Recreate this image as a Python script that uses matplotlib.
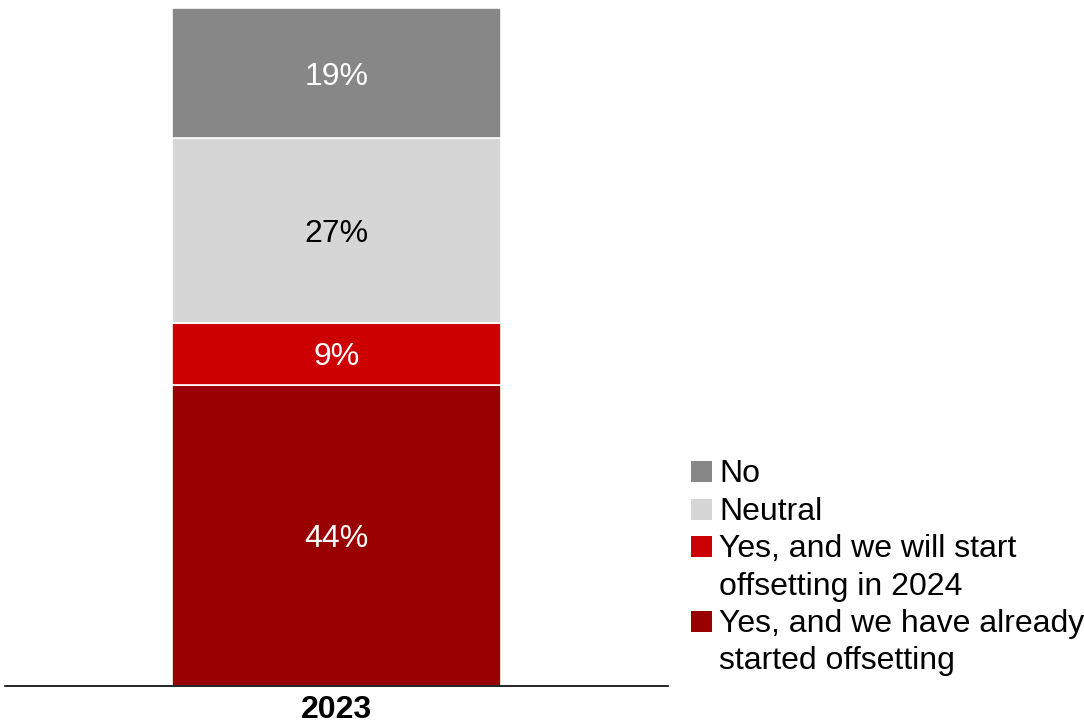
import matplotlib
matplotlib.use("Agg")
import matplotlib.pyplot as plt
from matplotlib.patches import Rectangle

plt.rcParams["font.family"] = ["Liberation Sans", "DejaVu Sans"]

# Survey results, stacked bottom to top
years = ["2023"]
series_names = [
    "Yes, and we have already\nstarted offsetting",
    "Yes, and we will start\noffsetting in 2024",
    "Neutral",
    "No",
]
series_values = [44, 9, 27, 19]
series_colors = ["#990000", "#CC0000", "#D6D6D6", "#878787"]
label_colors = ["white", "white", "black", "white"]

W, H = 1084, 724
FS = 23
fig = plt.figure(figsize=(W / 100, H / 100), dpi=100)

# axes placed in pixel terms: x 5..668, y 8..686 (from the top)
ax = fig.add_axes([5 / W, (H - 686) / H, (668 - 5) / W, (686 - 8) / H])
ax.set_xlim(-1, 1)
ax.set_ylim(0, sum(series_values))

bar_width = 329 / 331.5
bottom = 0
for val, col, tcol in zip(series_values, series_colors, label_colors):
    ax.bar(0, val, width=bar_width, bottom=bottom, color=col,
           edgecolor="white", linewidth=1.2)
    ax.text(0, bottom + val / 2, f"{val}%", ha="center", va="center_baseline",
            fontsize=FS, color=tcol)
    bottom += val

for s in ("left", "right", "top"):
    ax.spines[s].set_visible(False)
ax.spines["bottom"].set_linewidth(1.2)
ax.spines["bottom"].set_color("black")
ax.set_yticks([])
ax.set_xticks([0])
ax.set_xticklabels(years, fontsize=FS, fontweight="bold")
ax.tick_params(axis="x", length=0, pad=6.5)

# Legend drawn in pixel coordinates, top entry first
legend_order = list(range(len(series_names)))[::-1]
baseline = 482
line_step = 37.5
for i in legend_order:
    lines = series_names[i].split("\n")
    fig.patches.append(Rectangle((691 / W, (H - baseline) / H), 21 / W, 21 / H,
                                 transform=fig.transFigure,
                                 facecolor=series_colors[i], edgecolor="none"))
    for line in lines:
        fig.text(719 / W, (H - baseline) / H, line, fontsize=FS,
                 ha="left", va="baseline", color="black")
        baseline += line_step

fig.savefig("out.png", dpi=100)
